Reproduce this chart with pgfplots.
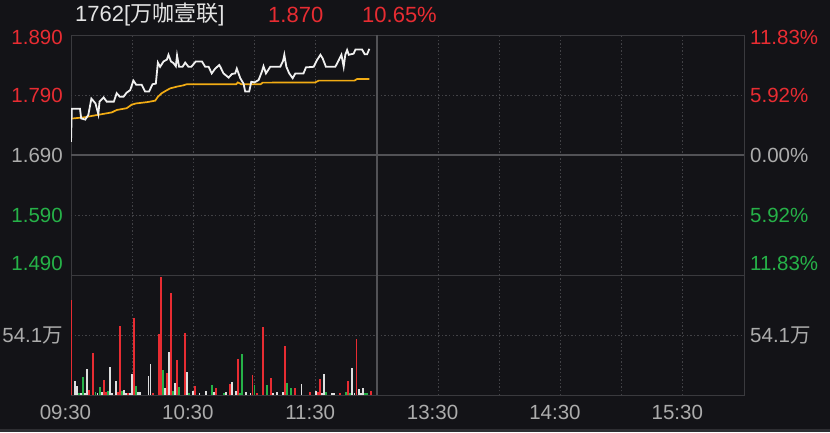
\documentclass[border=0pt]{standalone}
\usepackage{fontspec}
\setmainfont{Liberation Sans}
\newfontfamily\cjk{Noto Sans CJK SC}
\usepackage{pgfplots}
\pgfplotsset{compat=1.18}

\definecolor{bg}{RGB}{19,19,23}
\definecolor{framec}{RGB}{58,58,62}
\definecolor{gridc}{RGB}{66,66,70}
\definecolor{sepc}{RGB}{82,82,86}
\definecolor{upred}{RGB}{232,44,50}
\definecolor{dngreen}{RGB}{38,178,72}
\definecolor{flat}{RGB}{172,172,172}
\definecolor{pricec}{RGB}{240,240,240}
\definecolor{avgc}{RGB}{242,172,20}
\definecolor{volw}{RGB}{222,222,222}
\definecolor{titlec}{RGB}{228,228,228}

\pgfplotsset{
  panel/.style={
    scale only axis, width=673pt, xmin=0, xmax=330,
    axis line style={framec, line width=1pt},
    major tick length=0pt, tick style={draw=none},
    grid style={gridc, line width=1pt, dash pattern=on 1.4pt off 2.2pt},
    ticklabel style={font=\fontsize{20.5}{24}\selectfont, inner sep=0pt},
  },
}

\begin{document}
\begin{tikzpicture}[x=1pt,y=1pt]
\path[use as bounding box, fill=bg] (0pt,0pt) rectangle (830pt,432pt);
\fill[framec!70!bg] (0pt,0pt) rectangle (830pt,3pt);

\node[anchor=west, inner sep=0pt, text=titlec, font=\fontsize{22}{26}\selectfont] at (75pt,417pt) {1762[{\cjk 万咖壹联}]};
\node[anchor=west, inner sep=0pt, text=upred, font=\fontsize{22}{26}\selectfont] at (268pt,417pt) {1.870};
\node[anchor=west, inner sep=0pt, text=upred, font=\fontsize{22}{26}\selectfont] at (362pt,417pt) {10.65\%};

% price panel
\begin{axis}[panel, at={(71pt,157pt)}, anchor=south west, height=240pt,
  ymin=1.49, ymax=1.89,
  xtick={30,60,90,120,180,210,240,270,300}, xticklabels={}, xmajorgrids,
  ytick={1.886,1.79,1.69,1.59,1.51},
  yticklabels={\textcolor{upred}{1.890},\textcolor{upred}{1.790},\textcolor{flat}{1.690},\textcolor{dngreen}{1.590},\textcolor{dngreen}{1.490}},
  yticklabel style={xshift=-8pt},
  extra y ticks={1.59,1.79}, extra y tick labels={}, extra y tick style={grid=major},
]
\draw[sepc, line width=2.5pt] (axis cs:0,1.69) -- (axis cs:330,1.69);
\draw[sepc, line width=2.5pt] (axis cs:150,1.49) -- (axis cs:150,1.89);
\addplot[avgc, line width=1.7pt] coordinates {
(0,1.7506) (7,1.753) (10,1.755) (13.4,1.757) (16.7,1.759) (20,1.761) (22.4,1.765)
(27.3,1.768) (29.8,1.774) (32,1.776) (37,1.778) (38.8,1.779) (41.3,1.7806) (42.6,1.787)
(44.5,1.793) (47,1.798) (48.6,1.801) (52,1.804) (55,1.806) (56.8,1.808) (81,1.808)
(81.8,1.811) (83.5,1.808) (93,1.808) (94,1.8106) (119.8,1.811) (121.5,1.814) (139,1.814)
(140.3,1.8167) (146.3,1.8167)};
\addplot[pricec, line width=1.8pt] coordinates {
(0,1.712) (0.4,1.767) (4.4,1.767) (5,1.751) (7,1.749) (8.5,1.757) (10,1.784) (12,1.776)
(13.4,1.758) (14,1.779) (16,1.786) (17.5,1.779) (21,1.779) (22.4,1.793) (24,1.787)
(25.7,1.787) (27.3,1.794) (29,1.798) (30.6,1.814) (32,1.807) (34.7,1.807) (36.3,1.796)
(38.3,1.796) (40,1.808) (41.6,1.809) (42.6,1.844) (43.7,1.837) (45.4,1.846) (47,1.849)
(47.8,1.857) (49,1.846) (50.3,1.843) (51.4,1.838) (52,1.856) (53,1.837) (54.7,1.837)
(56,1.844) (57.6,1.837) (59,1.837) (61.2,1.846) (64.2,1.846) (65.8,1.837) (67.5,1.837)
(69,1.826) (70.7,1.834) (72.7,1.840) (73.2,1.837) (74.8,1.826) (77.3,1.819) (78.9,1.825)
(80.5,1.826) (81.3,1.834) (83,1.818) (84.6,1.809) (85.4,1.796) (87.4,1.796) (88.4,1.812)
(90,1.811) (92,1.815) (93.6,1.829) (94.4,1.838) (95.6,1.826) (97.7,1.837) (102.6,1.837)
(104,1.847) (104.6,1.857) (105.6,1.837) (107,1.826) (108.7,1.818) (110,1.826) (114,1.826)
(115.2,1.836) (119,1.837) (120.6,1.848) (122.3,1.857) (123.4,1.851) (125,1.837)
(129.6,1.837) (131.3,1.848) (132.6,1.857) (133.7,1.837) (134.5,1.857) (135.4,1.865)
(136.2,1.857) (138.6,1.859) (139.5,1.866) (142.7,1.866) (144,1.858) (145.2,1.858)
(146.3,1.867)};
\end{axis}

\begin{axis}[panel, at={(71pt,157pt)}, anchor=south west, height=240pt,
  ymin=1.49, ymax=1.89, axis x line=none, axis y line*=right,
  ytick={1.886,1.79,1.69,1.59,1.51},
  yticklabels={\textcolor{upred}{11.83\%},\textcolor{upred}{5.92\%},\textcolor{flat}{0.00\%},\textcolor{dngreen}{5.92\%},\textcolor{dngreen}{11.83\%}},
  yticklabel style={anchor=west, xshift=6pt},
]
\addplot[draw=none] coordinates {(0,1.69) (330,1.69)};
\end{axis}

% volume panel (units: 10k shares)
\begin{axis}[panel, at={(71pt,37pt)}, anchor=south west, height=120pt,
  ymin=0, ymax=108.2,
  xtick={0,60,120,180,240,300},
  xticklabels={09:30,10:30,11:30,13:30,14:30,15:30},
  xticklabel style={text=flat, xshift=-5.5pt, yshift=-10pt},
  extra x ticks={30,60,90,120,180,210,240,270,300}, extra x tick labels={},
  extra x tick style={grid=major},
  ytick={54.1}, yticklabels={54.1{\cjk 万}}, ymajorgrids,
  yticklabel style={text=flat, xshift=-8pt},
]
\draw[sepc, line width=2.5pt] (axis cs:150,0) -- (axis cs:150,108.2);
\addplot[ycomb, upred, line width=1.9pt] coordinates {
(0,85.7) (9,4.5) (11,37.6) (16,13.5) (17,3) (23,3) (24,62.2) (28,2) (31,69.7) (40,1.5)
(43,55) (44,106.7) (47,19.8) (49,92.3) (52,31.3) (56,55.6) (61,8.1) (71,6.6) (78,9.9)
(82,32.2) (89,18) (91,1.5) (94,61.3) (98,15.3) (105,44.2) (110,6.3) (117,2.7) (121,2.7)
(122,14.4) (132,1.5) (136,12.9) (140,50.2) (147,3.9)};
\addplot[ycomb, volw, line width=1.9pt] coordinates {
(2,12.6) (3,8.1) (5,1.5) (7,1.5) (8,23.1) (13,2.1) (15,2.4) (19,25.5) (20,2.1) (22,12.6)
(26,4.2) (27,2.1) (29,2.1) (30,18.9) (33,2.4) (34,2.4) (38,16.8) (39,27.7) (46,6.6)
(48,38.5) (51,10.5) (57,20.7) (60,3.9) (63,1.5) (66,3.9) (70,2.4) (76,2.7) (79,12)
(81,3.3) (86,2.7) (88,1.8) (99,1.8) (101,2.7) (104,2.7) (113,9.9) (120,3.6) (123,2.1)
(124,19.2) (128,1.8) (129,1.8) (138,24) (139,2.1) (141,5.7) (142,2.1) (143,6.6)};
\addplot[ycomb, dngreen, line width=1.9pt] coordinates {
(4,1.5) (6,15.9) (12,2.4) (14,7.2) (18,3.9) (25,3.6) (32,8.1) (45,22.5) (50,3.3) (53,7.2)
(58,1.5) (69,9) (75,1.5) (83,1.5) (84,37) (90,9) (96,8.7) (106,10.5) (108,6.3) (125,2.7)
(135,2.7) (137,2.1) (144,2.1) (145,1.5)};
\end{axis}

\begin{axis}[panel, at={(71pt,37pt)}, anchor=south west, height=120pt,
  ymin=0, ymax=108.2, axis x line=none, axis y line*=right,
  ytick={54.1}, yticklabels={54.1{\cjk 万}},
  yticklabel style={text=flat, anchor=west, xshift=6pt},
]
\addplot[draw=none] coordinates {(0,0) (330,0)};
\end{axis}
\end{tikzpicture}
\end{document}
